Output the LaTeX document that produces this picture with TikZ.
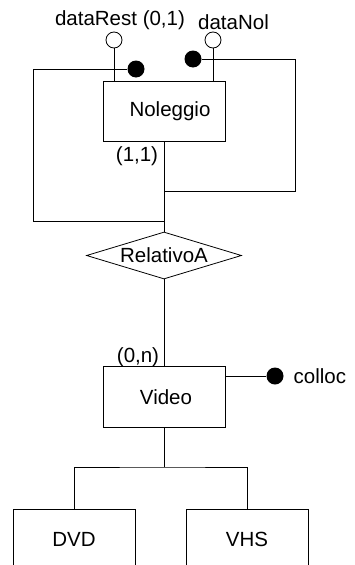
\documentclass[tikz,border=0pt]{standalone}
\usepackage{fontspec}
\setmainfont{Liberation Sans}
\usetikzlibrary{shapes.geometric}

\begin{document}
\begin{tikzpicture}[x=1pt, y=-1pt, line width=0.8pt,
    every node/.style={font=\fontsize{20.5}{24}\selectfont},
    entity/.style={draw, minimum width=122pt, minimum height=60.5pt, inner sep=0pt},
    relship/.style={draw, diamond, aspect=3.3, inner sep=0pt, minimum width=155pt, minimum height=47pt},
    attr/.style={draw, circle, fill=white, minimum size=16pt, inner sep=0pt},
    ident/.style={circle, fill=black, minimum size=17pt, inner sep=0pt}]
    \useasboundingbox (0,0) rectangle (354,565);
    \clip (0,0) rectangle (354,565);
    \node[entity] (n) at (164, 111.5) {\hspace*{12pt}Noleggio};
    \node[relship] (r) at (164, 255.5) {RelativoA};
    \node[entity] (v) at (164, 397) {\hspace*{4pt}Video};
    \node[entity] (dvd) at (74, 539.5) {DVD};
    \node[entity] (vhs) at (247, 539.5) {VHS};
    \node (dr) at (120, 20) {dataRest (0,1)};
    \node (dn) at (233.5, 22) {dataNol};
    \node (c11) at (137, 156) {(1,1)};
    \node (c0n) at (138, 357) {(0,n)};
    \node[anchor=west] (col) at (290, 376) {colloc};
    \node[attr] (ar) at (114, 40) {};
    \node[attr] (an) at (213, 40) {};
    \node[ident] (idl) at (136, 69) {};
    \node[ident] (idr) at (193, 59) {};
    \node[ident] (ic) at (275, 376) {};
    \coordinate (lc) at (33, 221);
    \coordinate (j1) at (164, 221);
    \coordinate (rc) at (295, 191);
    \coordinate (j2) at (164, 191);
    \coordinate (isa) at (164, 467);
    \draw (ar) -- (ar |- n.north);
    \draw (an) -- (an |- n.north);
    \draw (idl) -| (lc) -- (j1);
    \draw (idr) -| (rc) -- (j2);
    \draw (n) -- (r);
    \draw (r) -- (v);
    \draw (v.east |- ic) -- (ic);
    \draw (v) -- (isa);
    \draw (dvd) |- (isa) -| (vhs);
\end{tikzpicture}
\end{document}
